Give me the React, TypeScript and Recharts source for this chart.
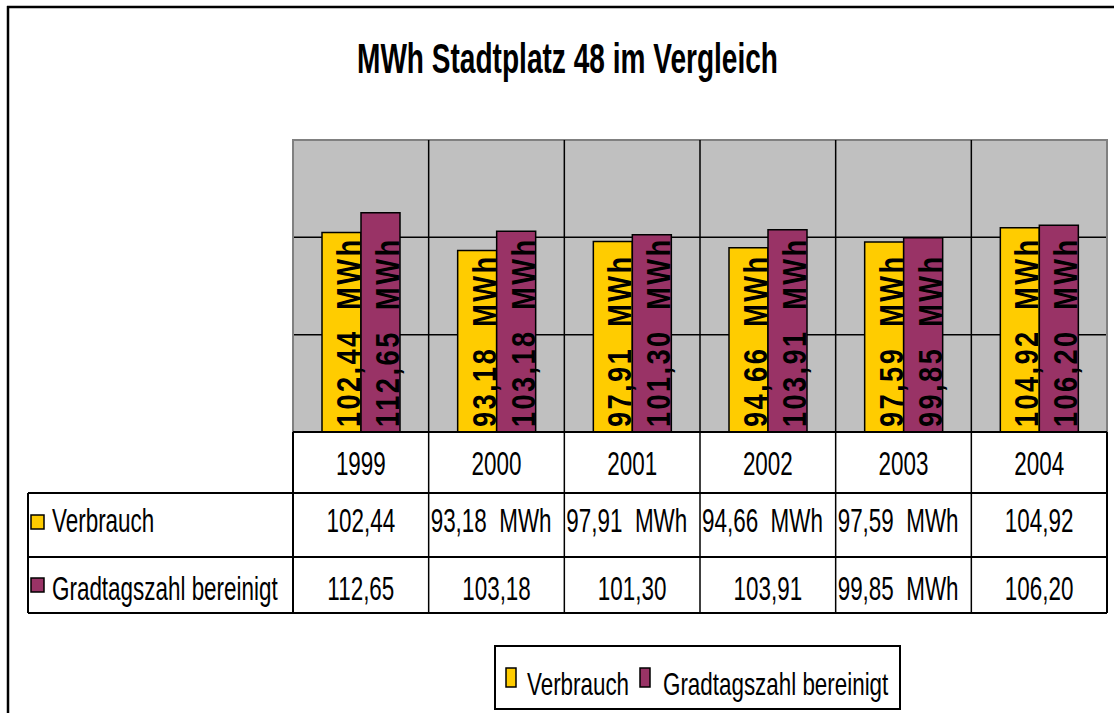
import React from 'react';
import { BarChart, Bar, XAxis, YAxis, CartesianGrid, LabelList } from 'recharts';

const years = ['1999', '2000', '2001', '2002', '2003', '2004'];
const verbrauch = [102.44, 93.18, 97.91, 94.66, 97.59, 104.92];
const gradtag = [112.65, 103.18, 101.3, 103.91, 99.85, 106.2];
const yTicks = [0, 50, 100, 150];
const gridValues = [50, 100];
// which data table cells show the unit
const verbrauchUnit = [false, true, true, true, true, false];
const gradtagUnit = [false, false, false, false, true, false];

const data = years.map((year, i) => ({ year, verbrauch: verbrauch[i], gradtag: gradtag[i] }));

const W = 1114;
const H = 713;
const PLOT = { left: 293, top: 140, width: 814, height: 292 };
const COL_W = PLOT.width / years.length;
const FONT = '"Liberation Sans", Arial, sans-serif';
const YELLOW = '#FFCC00';
const PURPLE = '#993366';

const fmt = (v: number) => v.toFixed(2).replace('.', ',');

const Txt = ({ x, y, anchor = 'middle', size = 33, sx = 0.68, bold = false, children }: any) => (
  <text
    transform={`translate(${x},${y}) scale(${sx},1)`}
    textAnchor={anchor}
    fontSize={size}
    fontWeight={bold ? 'bold' : 'normal'}
    fontFamily={FONT}
    fill="#000"
    style={{ whiteSpace: 'pre' }}
  >
    {children}
  </text>
);

const BarValue = (props: any) => {
  const { x, y, width, height, value } = props;
  const s = `${fmt(value)}  MWh`;
  const bx = Number(x) + Number(width) - 1;
  const by = Number(y) + Number(height) - 5;
  const squeeze = 0.8;
  return (
    <text
      transform={`translate(${bx},${by}) rotate(-90) scale(${squeeze},1)`}
      fontSize={34}
      fontWeight="bold"
      fontFamily={FONT}
      fill="#000"
      textLength={(s.length * 17) / squeeze}
      lengthAdjust="spacing"
      style={{ whiteSpace: 'pre' }}
    >
      {s}
    </text>
  );
};

const ROW_TOP = [PLOT.top + PLOT.height, 493, 557, 613];
const TABLE_LEFT = 28;
const PLOT_RIGHT = PLOT.left + PLOT.width;

const DataTable = () => {
  const colX = years.map((_, i) => PLOT.left + i * COL_W);
  const rows = [
    { name: 'Verbrauch', color: YELLOW, values: verbrauch, unit: verbrauchUnit, base: 532, my: 515 },
    { name: 'Gradtagszahl bereinigt', color: PURPLE, values: gradtag, unit: gradtagUnit, base: 600, my: 578 },
  ];
  return (
    <g>
      <line x1={PLOT.left} x2={PLOT_RIGHT} y1={ROW_TOP[0]} y2={ROW_TOP[0]} stroke="#000" strokeWidth={2} />
      {[...colX, PLOT_RIGHT].map((cx, i) => (
        <line key={`c${i}`} x1={cx} x2={cx} y1={i === 0 || i === years.length ? ROW_TOP[0] : PLOT.top} y2={ROW_TOP[3]} stroke="#000" strokeWidth={i === 0 || i === years.length ? 2 : 1.5} />
      ))}
      <line x1={TABLE_LEFT} x2={TABLE_LEFT} y1={ROW_TOP[1]} y2={ROW_TOP[3]} stroke="#000" strokeWidth={2} />
      {[1, 2, 3].map((r) => (
        <line key={`r${r}`} x1={TABLE_LEFT} x2={PLOT_RIGHT} y1={ROW_TOP[r]} y2={ROW_TOP[r]} stroke="#000" strokeWidth={2} />
      ))}
      {years.map((yr, i) => (
        <Txt key={yr} x={colX[i] + COL_W / 2} y={475}>{yr}</Txt>
      ))}
      {rows.map((row) => (
        <g key={row.name}>
          <rect x={31} y={row.my} width={13} height={14} fill={row.color} stroke="#000" strokeWidth={1.5} />
          <Txt x={52} y={row.base} anchor="start">{row.name}</Txt>
          {row.values.map((v, i) =>
            row.unit[i] ? (
              <Txt key={i} x={colX[i] + 2} y={row.base} anchor="start">{`${fmt(v)}  MWh`}</Txt>
            ) : (
              <Txt key={i} x={colX[i] + COL_W / 2} y={row.base}>{fmt(v)}</Txt>
            )
          )}
        </g>
      ))}
    </g>
  );
};

const Overlay = () => (
  <svg width={W} height={H} style={{ position: 'absolute', left: 0, top: 0, pointerEvents: 'none' }}>
    {/* outer chart frame */}
    <line x1={8} x2={8} y1={6} y2={H} stroke="#000" strokeWidth={2.5} />
    <line x1={7} x2={W} y1={7} y2={7} stroke="#000" strokeWidth={2.5} />
    <text
      x={567.5}
      y={73}
      textAnchor="middle"
      fontSize={42}
      fontWeight="bold"
      fontFamily={FONT}
      textLength={421}
      lengthAdjust="spacingAndGlyphs"
    >
      MWh Stadtplatz 48 im Vergleich
    </text>
    {/* plot area border */}
    <polyline
      points={`${PLOT.left},${PLOT.top + PLOT.height} ${PLOT.left},${PLOT.top} ${PLOT_RIGHT},${PLOT.top} ${PLOT_RIGHT},${PLOT.top + PLOT.height}`}
      fill="none"
      stroke="#808080"
      strokeWidth={2}
    />
    <DataTable />
    {/* legend */}
    <rect x={495} y={646} width={405} height={63} fill="none" stroke="#000" strokeWidth={2} />
    <rect x={506} y={668} width={10} height={19} fill={YELLOW} stroke="#000" strokeWidth={1.5} />
    <Txt x={527} y={695} anchor="start" sx={0.7} size={32}>Verbrauch</Txt>
    <rect x={640} y={668} width={10} height={19} fill={PURPLE} stroke="#000" strokeWidth={1.5} />
    <Txt x={663} y={695} anchor="start" sx={0.7} size={32}>Gradtagszahl bereinigt</Txt>
  </svg>
);

export default function App() {
  return (
    <div style={{ position: 'fixed', left: 0, top: 0, width: W, height: H, background: '#fff', fontFamily: FONT }}>
      <BarChart
        width={W}
        height={H}
        data={data}
        margin={{ left: PLOT.left, top: PLOT.top, right: W - PLOT.left - PLOT.width, bottom: H - PLOT.top - PLOT.height }}
        barGap={0}
        barSize={39}
      >
        <CartesianGrid
          fill="#C0C0C0"
          stroke="#000"
          strokeWidth={1.5}
          horizontalValues={gridValues}
          vertical={false}
        />
        <XAxis dataKey="year" hide />
        <YAxis hide domain={[0, 150]} ticks={yTicks} />
        <Bar dataKey="verbrauch" fill={YELLOW} stroke="#000" strokeWidth={1.5} isAnimationActive={false}>
          <LabelList dataKey="verbrauch" content={BarValue} />
        </Bar>
        <Bar dataKey="gradtag" fill={PURPLE} stroke="#000" strokeWidth={1.5} isAnimationActive={false}>
          <LabelList dataKey="gradtag" content={BarValue} />
        </Bar>
      </BarChart>
      <Overlay />
    </div>
  );
}
